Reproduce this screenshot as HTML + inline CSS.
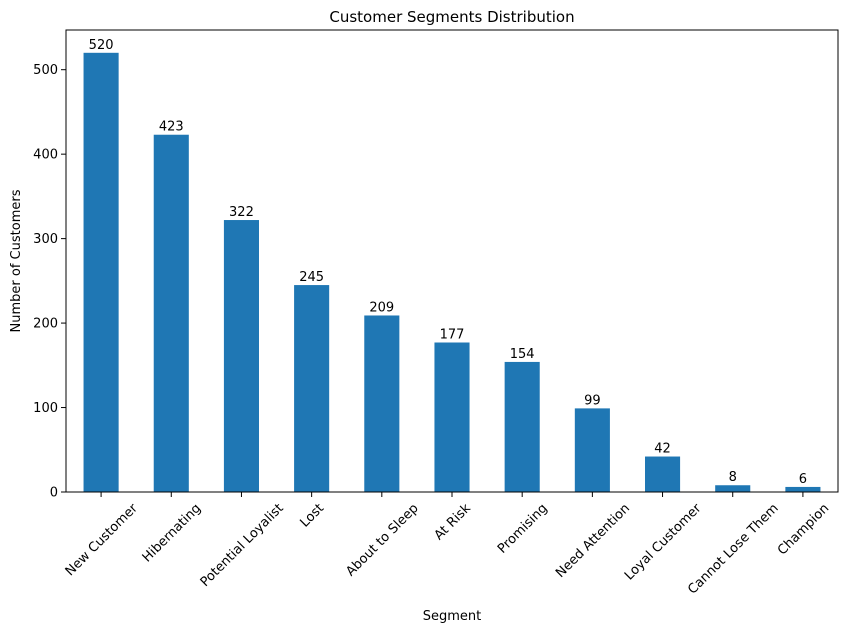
<!DOCTYPE html>
<html><head><meta charset="utf-8"><style>
body{margin:0;background:#fff;font-family:"Liberation Sans","DejaVu Sans",sans-serif;}
svg text{font-family:"DejaVu Sans","Liberation Sans",sans-serif;}
</style></head><body>
<svg id="chart" width="850" height="633"></svg>
<script>
const categories=["New Customer","Hibernating","Potential Loyalist","Lost","About to Sleep","At Risk","Promising","Need Attention","Loyal Customer","Cannot Lose Them","Champion"];
const values=[520,423,322,245,209,177,154,99,42,8,6];
const yTicks=[0,100,200,300,400,500];
const NS="http://www.w3.org/2000/svg";
const svg=document.getElementById('chart');
const L=66,R=838,T=30,B=492,yMax=547;
const y=v=>B-(v/yMax)*(B-T);
const step=(R-L)/categories.length;
const x=i=>L+(i+0.5)*step;
function mk(tag,attrs,txt){const e=document.createElementNS(NS,tag);for(const k in attrs)e.setAttribute(k,attrs[k]);if(txt!==undefined)e.textContent=txt;svg.appendChild(e);return e;}
values.forEach((v,i)=>{
 const r=mk('rect',{x:x(i)-step/4,y:y(v),width:step/2,height:B-y(v),fill:'#1f77b4'});
 
 
 const t=mk('text',{x:x(i),y:y(v)-4,'text-anchor':'middle','font-size':13,fill:'#000'},String(v));
 
 
 mk('line',{x1:x(i),x2:x(i),y1:B,y2:B+5,stroke:'#000','stroke-width':1});
 const lt=mk('text',{x:x(i),y:0,'text-anchor':'middle','font-size':13,fill:'#000'},categories[i]);
 
 
 const w=lt.getComputedTextLength();
 const cy=B+9+(w+13)*0.3536;
 lt.setAttribute('y',cy+4.5);
 lt.setAttribute('transform',`rotate(-45 ${x(i)} ${cy})`);
});
yTicks.forEach(v=>{
 mk('line',{x1:L-5,x2:L,y1:y(v),y2:y(v),stroke:'#000','stroke-width':1});
 const t=mk('text',{x:L-8,y:y(v)+4.5,'text-anchor':'end','font-size':13,fill:'#000'},String(v));
 
 
});
const f=mk('rect',{x:L,y:T,width:R-L,height:B-T,fill:'none',stroke:'#000','stroke-width':1});


const ti=mk('text',{x:(L+R)/2,y:22,'text-anchor':'middle','font-size':15,fill:'#000'},'Customer Segments Distribution');


const xt=mk('text',{x:(L+R)/2,y:620,'text-anchor':'middle','font-size':13,fill:'#000'},'Segment');


const yt=mk('text',{x:20,y:(T+B)/2,'text-anchor':'middle','font-size':13,fill:'#000',transform:`rotate(-90 20 ${(T+B)/2})`},'Number of Customers');


</script>
</body></html>
